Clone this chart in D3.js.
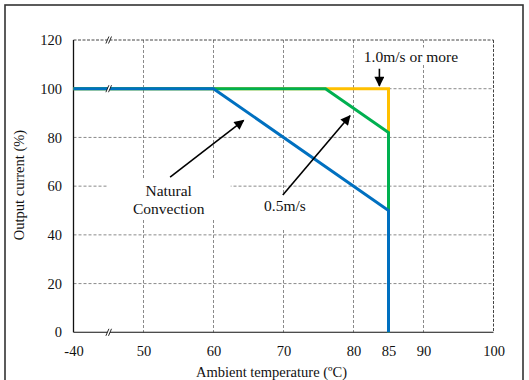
<!DOCTYPE html>
<html>
<head>
<meta charset="utf-8">
<script src="https://cdn.jsdelivr.net/npm/d3@7"></script>
<style>
  html, body { margin: 0; padding: 0; background: #fff; }
</style>
</head>
<body>
<svg id="chart" width="529" height="380"></svg>
<script>
// ---- data ----
const xTickValues = [-40, 50, 60, 70, 80, 85, 90, 100];
const yTickValues = [0, 20, 40, 60, 80, 100, 120];
const xGridValues = [50, 60, 70, 80, 90];
const yGridValues = [20, 40, 60, 80, 100];

const temp10 = [-40, 85, 85];          // 1.0m/s or more
const curr10 = [100, 100, 0];
const temp05 = [-40, 76, 85, 85];      // 0.5m/s
const curr05 = [100, 100, 82, 0];
const tempNat = [-40, 60, 85, 85];     // Natural Convection
const currNat = [100, 100, 50, 0];

const seriesNames = ["1.0m/s or more", "0.5m/s", "Natural Convection"];
const breakYValues = [0, 100, 120];

// annotation arrows (data coordinates: tail -> tip)
const arrowNat = [[53.8, 63.7], [64.3, 87.0]];
const arrow05 = [[69.9, 56.4], [79.5, 88.9]];
const arrow10 = [[83.7, 108.2], [83.7, 101.2]];

// ---- layout ----
const FONT = '"Liberation Serif", "DejaVu Serif", "Times New Roman", serif';
const svg = d3.select("#chart");
const pL = 73.5, pR = 493.5, pT = 40, pB = 332.3;

const x = d3.scaleLinear().domain([-40, 50, 100]).range([pL, pL + 70, pR]);
const y = d3.scaleLinear().domain([0, 120]).range([pB, pT]);

// outer frame
svg.append("rect").attr("x", 5).attr("y", 5).attr("width", 518).attr("height", 390)
  .attr("fill", "none").attr("stroke", "#333").attr("stroke-width", 1.6);

// grid
const grid = svg.append("g");
grid.selectAll(".gx").data(xGridValues).join("line")
  .attr("x1", d => x(d)).attr("x2", d => x(d)).attr("y1", pT).attr("y2", pB)
  .attr("stroke", "#8a8a8a").attr("stroke-width", 1).attr("stroke-dasharray", "3,2");
grid.selectAll(".gy").data(yGridValues).join("line")
  .attr("x1", pL).attr("x2", pR).attr("y1", d => y(d)).attr("y2", d => y(d))
  .attr("stroke", "#8a8a8a").attr("stroke-width", 1).attr("stroke-dasharray", "3,2");
// top & right border dashed
svg.append("line").attr("x1", pL).attr("x2", pR).attr("y1", y(120)).attr("y2", y(120))
  .attr("stroke", "#444").attr("stroke-width", 1).attr("stroke-dasharray", "3,1.5");
svg.append("line").attr("x1", pR).attr("x2", pR).attr("y1", pT).attr("y2", pB)
  .attr("stroke", "#444").attr("stroke-width", 1).attr("stroke-dasharray", "3,1.5");

// annotation text boxes (white background hides grid)
function labelBox(lines, cx, cy, padX, padTop, padBottom, lh) {
  const g = svg.append("g");
  const rect = g.append("rect").attr("fill", "#fff");
  const t = g.append("text").attr("text-anchor", "middle")
    .style("font-family", FONT).style("font-size", "15.5px").style("fill", "#111");
  lines.forEach((s, i) => {
    t.append("tspan").attr("x", cx).attr("y", cy + i * lh).attr("dy", "0.35em").text(s);
  });
  const bb = t.node().getBBox();
  rect.attr("x", bb.x - padX).attr("y", bb.y - padTop)
      .attr("width", bb.width + 2 * padX).attr("height", bb.height + padTop + padBottom);
  return g;
}

// series lines
const line = d3.line().x(d => x(d[0])).y(d => y(d[1]));
const series = [
  { name: seriesNames[0], t: temp10, c: curr10, color: "#FFC000" },
  { name: seriesNames[1], t: temp05, c: curr05, color: "#00B050" },
  { name: seriesNames[2], t: tempNat, c: currNat, color: "#0070C0" }
];

// axes
const xAxis = d3.axisBottom(x).tickValues(xTickValues).tickSize(0).tickPadding(13.2)
  .tickFormat(d => String(d));
const gx = svg.append("g").attr("transform", `translate(0,${pB})`).call(xAxis);
gx.select(".domain").remove();
gx.selectAll("text").style("font-family", FONT).style("font-size", "14.5px").style("fill", "#111");

const yAxis = d3.axisLeft(y).tickValues(yTickValues).tickSize(0).tickPadding(11.5);
const gy = svg.append("g").attr("transform", `translate(${pL},0)`).call(yAxis);
gy.select(".domain").remove();
gy.selectAll("text").style("font-family", FONT).style("font-size", "14.5px").style("fill", "#111");

// solid left & bottom axis lines
svg.append("line").attr("x1", pL).attr("x2", pL).attr("y1", pT).attr("y2", pB)
  .attr("stroke", "#111").attr("stroke-width", 1.3);
svg.append("line").attr("x1", pL).attr("x2", pR).attr("y1", pB).attr("y2", pB)
  .attr("stroke", "#111").attr("stroke-width", 1.1);

// labels with white boxes
labelBox(["Natural", "Convection"], x(53.6), y(58.2), 26, 2, 2, 18.5);
labelBox(["0.5m/s"], x(70.2), y(52), 8, 3, 14, 0);
labelBox(["1.0m/s or more"], x(88.2), y(113.4), 10, 0, 0, 0);

series.forEach(s => {
  svg.append("path").datum(s.t.map((v, i) => [v, s.c[i]]))
    .attr("d", line).attr("fill", "none").attr("stroke", s.color)
    .attr("stroke-width", 3).attr("stroke-linejoin", "miter");
});

// arrows
const defs = svg.append("defs");
defs.append("marker").attr("id", "ah").attr("markerUnits", "userSpaceOnUse")
  .attr("viewBox", "0 0 10 10").attr("refX", 9).attr("refY", 5)
  .attr("markerWidth", 11).attr("markerHeight", 10).attr("orient", "auto")
  .append("path").attr("d", "M0,0 L10,5 L0,10 Z").attr("fill", "#000");
[arrowNat, arrow05, arrow10].forEach(a => {
  svg.append("line")
    .attr("x1", x(a[0][0])).attr("y1", y(a[0][1]))
    .attr("x2", x(a[1][0])).attr("y2", y(a[1][1]))
    .attr("stroke", "#000").attr("stroke-width", 1.6).attr("marker-end", "url(#ah)");
});

// axis break marks
const bx = (x(-40) + x(50)) / 2;
breakYValues.forEach(v => {
  const by = y(v);
  const g = svg.append("g").attr("transform", `translate(${bx},${by})`);
  g.append("polygon").attr("points", "-2.6,3.5 0.4,-3.5 3.0,-3.5 0,3.5").attr("fill", "#fff");
  g.append("line").attr("x1", -2.6).attr("y1", 3.5).attr("x2", 0.4).attr("y2", -3.5)
    .attr("stroke", "#111").attr("stroke-width", 0.9);
  g.append("line").attr("x1", 0).attr("y1", 3.5).attr("x2", 3.0).attr("y2", -3.5)
    .attr("stroke", "#111").attr("stroke-width", 0.9);
});

// axis titles
svg.append("text").attr("x", (pL + pR) / 2 - 12).attr("y", 372).attr("dy", "0.35em")
  .attr("text-anchor", "middle").style("font-family", FONT).style("font-size", "14.5px")
  .style("fill", "#111").text("Ambient temperature (ºC)");
svg.append("text").attr("transform", `translate(18.5,185) rotate(-90)`).attr("dy", "0.35em")
  .attr("text-anchor", "middle").style("font-family", FONT).style("font-size", "14.5px")
  .style("fill", "#111").text("Output current (%)");
</script>
</body>
</html>
